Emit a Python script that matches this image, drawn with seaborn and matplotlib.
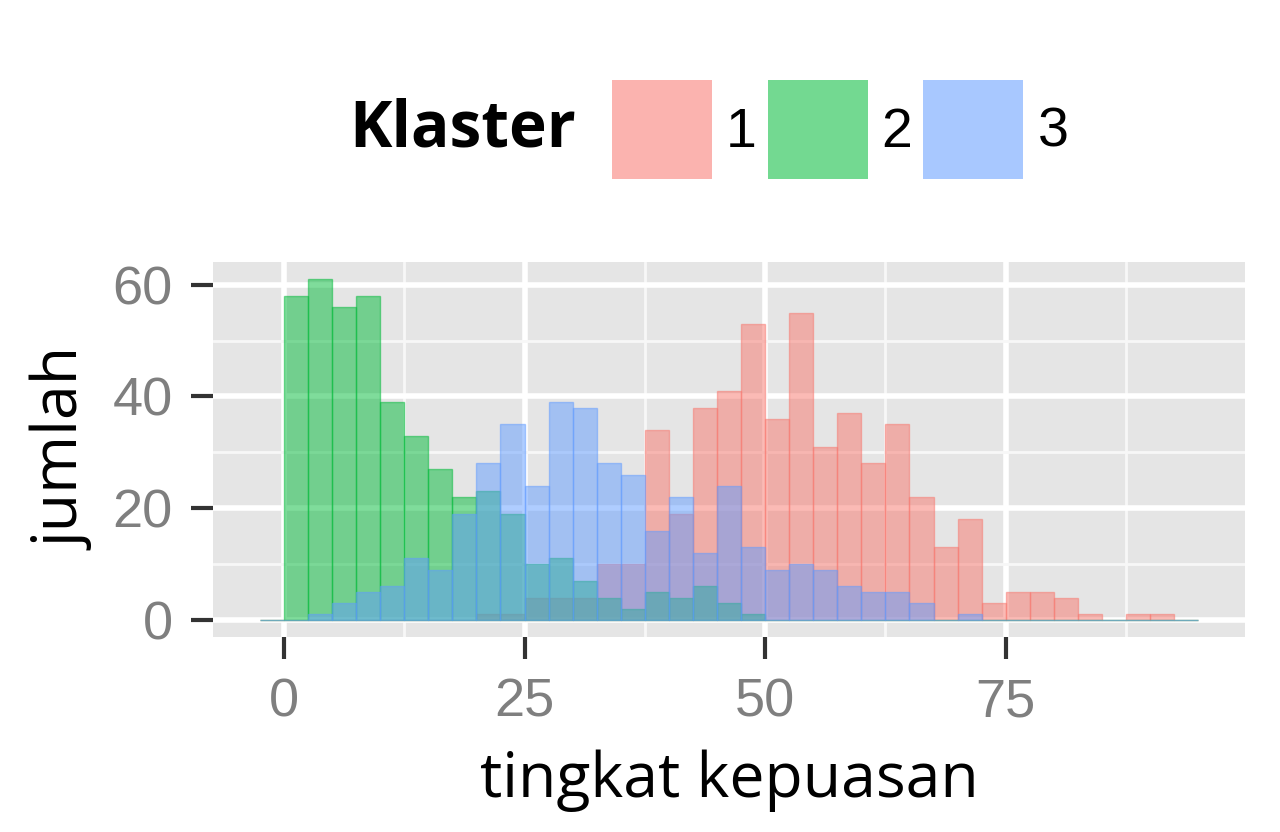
import numpy as np
import pandas as pd
import matplotlib.pyplot as plt
import seaborn as sns
from matplotlib.patches import Patch

# ----------------------------------
# Data (counts per 2.5-wide bin)
# ----------------------------------

tingkat = np.arange(1.25, 95, 2.5)  # bin midpoints 0..95

klaster_1 = [0, 0, 0, 0, 0, 0, 0, 0, 1, 1,
             4, 4, 4, 10, 10, 34, 19, 38, 41, 53,
             36, 55, 31, 37, 28, 35, 22, 13, 18, 3,
             5, 5, 4, 1, 0, 1, 1, 0]

klaster_2 = [58, 61, 56, 58, 39, 33, 27, 22, 23, 19,
             10, 11, 7, 4, 2, 5, 4, 6, 3, 1,
             0, 0, 0, 0, 0, 0, 0, 0, 0, 0,
             0, 0, 0, 0, 0, 0, 0, 0]

klaster_3 = [0, 1, 3, 5, 6, 11, 9, 19, 28, 35,
             24, 39, 38, 28, 26, 16, 22, 12, 24, 13,
             9, 10, 9, 6, 5, 5, 3, 0, 1, 0,
             0, 0, 0, 0, 0, 0, 0, 0]

klaster_labels = ["1", "2", "3"]
warna = ["#F8766D", "#00BA38", "#619CFF"]

df = pd.concat([
    pd.DataFrame({"tingkat": tingkat, "jumlah": k, "klaster": lab})
    for k, lab in zip([klaster_1, klaster_2, klaster_3], klaster_labels)
])

# ----------------------------------
# Style
# ----------------------------------

sns.set_theme(style="darkgrid")
plt.rcParams["font.family"] = ["Liberation Sans", "DejaVu Sans"]
plt.rcParams["text.color"] = "black"

fig = plt.figure(figsize=(12.8, 8.32), dpi=100)
ax = fig.add_axes([0.1664, 0.2344, 0.8063, 0.4507])
ax.set_facecolor("#E5E5E5")

for lab, col in zip(klaster_labels, warna):
    sns.histplot(
        data=df[df["klaster"] == lab],
        x="tingkat",
        weights="jumlah",
        binwidth=2.5,
        binrange=(-2.5, 95),
        color=col,
        alpha=0.5,
        linewidth=1.0,
        ax=ax
    )

# edges in the same translucent colour as the fill
for p in ax.patches:
    p.set_edgecolor(p.get_facecolor())

ax.set_xlim(-7.375, 99.875)
ax.set_ylim(-3.05, 64.05)

ax.set_xticks([0, 25, 50, 75])
ax.set_xticks([12.5, 37.5, 62.5, 87.5], minor=True)
ax.set_yticks([0, 20, 40, 60])
ax.set_yticks([10, 30, 50], minor=True)

ax.grid(which="major", color="white", linewidth=4)
ax.grid(which="minor", color="#F7F7F7", linewidth=2)
ax.set_axisbelow(True)
for s in ax.spines.values():
    s.set_visible(False)

ax.tick_params(axis="both", which="major", bottom=True, left=True,
               length=16, width=3, color="#333333",
               labelcolor="#7F7F7F", labelsize=39, pad=13)
ax.tick_params(axis="both", which="minor", length=0)

ax.set_xlabel("tingkat kepuasan", fontsize=45, family=["Open Sans", "DejaVu Sans"],
              color="black", labelpad=16)
ax.set_ylabel("jumlah", fontsize=45, family=["Open Sans", "DejaVu Sans"],
              color="black", labelpad=12)

# ----------------------------------
# Legend
# ----------------------------------

handles = [Patch(facecolor=c, edgecolor="none", alpha=0.55) for c in warna]
leg = fig.legend(
    handles, klaster_labels,
    loc="center left",
    bbox_to_anchor=(0.478, 0.844),
    ncol=3,
    frameon=False,
    fontsize=40,
    handlelength=1.8,
    handleheight=2.37,
    handletextpad=0.25,
    columnspacing=0.2,
    borderpad=0,
    borderaxespad=0
)
for t in leg.get_texts():
    t.set_color("black")

fig.text(0.273, 0.844, "Klaster", fontsize=46, fontweight="bold",
         family=["Open Sans", "DejaVu Sans"], color="black",
         va="center", ha="left")

fig.savefig("out.png", dpi=100)
